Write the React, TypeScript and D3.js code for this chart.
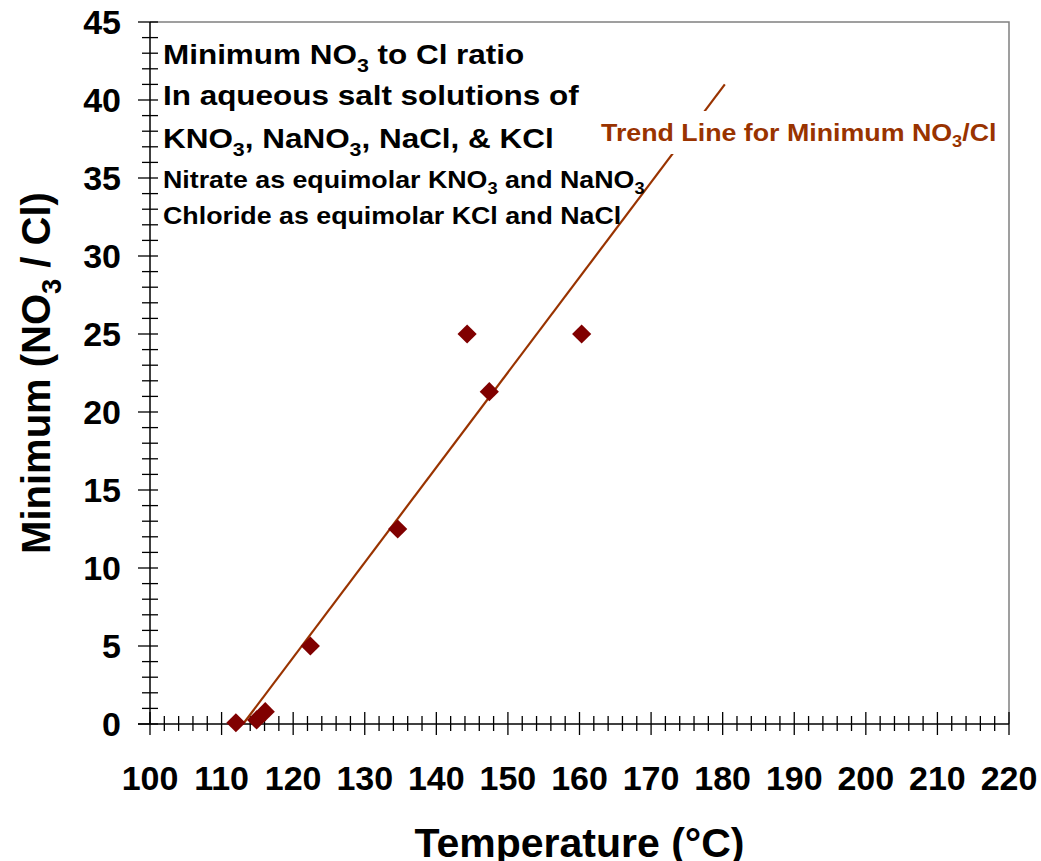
import * as d3 from "d3";
import { useEffect, useRef } from "react";

// measured minimum NO3/Cl ratios
const tempC = [112.0, 114.9, 116.1, 122.4, 134.6, 144.3, 147.4, 160.3];
const minRatio = [0.08, 0.26, 0.79, 5.0, 12.5, 25.0, 21.3, 25.0];

// linear trend line end points
const trendTemp = [113.0, 180.3];
const trendRatio = [0, 41.0];

const xTicks = [100, 110, 120, 130, 140, 150, 160, 170, 180, 190, 200, 210, 220];
const yTicks = [0, 5, 10, 15, 20, 25, 30, 35, 40, 45];

const width = 1041;
const height = 861;
const margin = { left: 150, right: 32, top: 22, bottom: 137 };
const font = "'Liberation Sans', Arial, sans-serif";
const trendColor = "#993300";
const markerColor = "#800000";

type Part = [string, boolean];

const Sub = ({ x, y, size, parts, fill = "#000", anchor = "start", rotate = 0, stretch = 1 }: {
  x: number; y: number; size: number; parts: Part[]; fill?: string; anchor?: string; rotate?: number; stretch?: number;
}) => {
  const shift = size * 0.28;
  let down = false;
  return (
    <g transform={`translate(${x},${y}) rotate(${rotate}) scale(${stretch},1)`}>
      <text x={0} y={0} fontSize={size} fontWeight="bold" fill={fill} textAnchor={anchor}>
        {parts.map(([t, sub], i) => {
          let dy = 0;
          if (sub && !down) { dy = shift; down = true; }
          else if (!sub && down) { dy = -shift; down = false; }
          return (
            <tspan key={i} dy={dy} fontSize={sub ? size * 0.68 : size}>{t}</tspan>
          );
        })}
      </text>
    </g>
  );
};

const App = () => {
  const ref = useRef<SVGGElement | null>(null);

  const x = d3.scaleLinear().domain([100, 220]).range([margin.left, width - margin.right]);
  const y = d3.scaleLinear().domain([0, 45]).range([height - margin.bottom, margin.top]);

  useEffect(() => {
    const g = d3.select(ref.current);
    g.selectAll("*").remove();

    const x0 = x(100), x1 = x(220), y0 = y(0), y1 = y(45);

    // frame (top / right)
    g.append("path")
      .attr("d", `M${x0},${y1}H${x1}V${y0}`)
      .attr("fill", "none")
      .attr("stroke", "#808080")
      .attr("stroke-width", 1.5);

    // y axis ticks
    const yMinor = d3.range(0, 46, 1);
    g.selectAll(".ytick")
      .data(yMinor)
      .join("line")
      .attr("x1", (d) => (d % 5 === 0 ? x0 - 12 : x0 - 8))
      .attr("x2", x0 + 8)
      .attr("y1", (d) => y(d))
      .attr("y2", (d) => y(d))
      .attr("stroke", "#000")
      .attr("stroke-width", 1.3);

    // x axis ticks
    const xMinor = d3.range(100, 221, 2);
    g.selectAll(".xtick")
      .data(xMinor)
      .join("line")
      .attr("x1", (d) => x(d))
      .attr("x2", (d) => x(d))
      .attr("y1", (d) => (d % 10 === 0 ? y0 - 12 : y0 - 8))
      .attr("y2", (d) => (d % 10 === 0 ? y0 + 11 : y0 + 7))
      .attr("stroke", "#000")
      .attr("stroke-width", 1.3);

    // axis lines
    g.append("line").attr("x1", x0).attr("x2", x0).attr("y1", y1).attr("y2", y0)
      .attr("stroke", "#000").attr("stroke-width", 1.5);
    g.append("line").attr("x1", x0 - 12).attr("x2", x1).attr("y1", y0).attr("y2", y0)
      .attr("stroke", "#000").attr("stroke-width", 1.5);

    // tick labels
    g.selectAll(".ylab")
      .data(yTicks)
      .join("text")
      .attr("x", x0 - 29)
      .attr("y", (d) => y(d))
      .attr("dy", "0.36em")
      .attr("text-anchor", "end")
      .attr("font-size", 34)
      .attr("font-weight", "bold")
      .text((d) => d);

    g.selectAll(".xlab")
      .data(xTicks)
      .join("text")
      .attr("x", (d) => x(d))
      .attr("y", y0 + 66)
      .attr("text-anchor", "middle")
      .attr("font-size", 34)
      .attr("font-weight", "bold")
      .text((d) => d);

    // trend line
    const line = d3.line<number>()
      .x((d) => x(d))
      .y((_, i) => y(trendRatio[i]));
    g.append("path")
      .attr("d", line(trendTemp))
      .attr("fill", "none")
      .attr("stroke", trendColor)
      .attr("stroke-width", 2.2);

    // data markers
    g.selectAll(".pt")
      .data(tempC)
      .join("path")
      .attr("transform", (d, i) => `translate(${x(d)},${y(minRatio[i])})`)
      .attr("d", d3.symbol(d3.symbolDiamond2, 235)())
      .attr("fill", markerColor);
  }, []);

  const midY = (margin.top + height - margin.bottom) / 2;
  const k = 1.165;

  return (
    <svg width={width} height={height} style={{ position: "absolute", left: 0, top: 0, background: "#fff" }} fontFamily={font}>
      <g ref={ref} />
      <rect x={598} y={111} width={408} height={43} fill="#fff" />
      <Sub x={601} y={141} size={23} fill={trendColor} stretch={k}
        parts={[["Trend Line for Minimum NO", false], ["3", true], ["/Cl", false]]} />
      <Sub x={163} y={64} size={27} stretch={k}
        parts={[["Minimum NO", false], ["3", true], [" to Cl ratio", false]]} />
      <Sub x={163} y={105} size={27} stretch={k}
        parts={[["In aqueous salt solutions of", false]]} />
      <Sub x={163} y={148} size={27} stretch={k}
        parts={[["KNO", false], ["3", true], [", NaNO", false], ["3", true], [", NaCl, & KCl", false]]} />
      <Sub x={163} y={188} size={23} stretch={k}
        parts={[["Nitrate as equimolar KNO", false], ["3", true], [" and NaNO", false], ["3", true]]} />
      <Sub x={163} y={224} size={23} stretch={k}
        parts={[["Chloride as equimolar KCl and NaCl", false]]} />
      <Sub x={50} y={midY} size={40} anchor="middle" rotate={-90}
        parts={[["Minimum (NO", false], ["3", true], [" / Cl)", false]]} />
      <Sub x={(margin.left + width - margin.right) / 2} y={857} size={41} anchor="middle"
        parts={[["Temperature (°C)", false]]} />
    </svg>
  );
};

export default App;
